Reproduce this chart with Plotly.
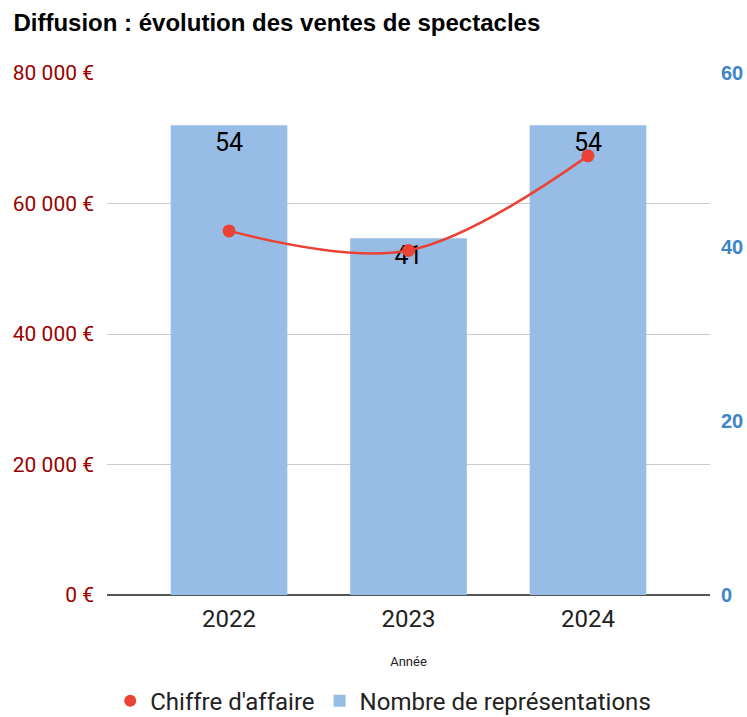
import plotly.graph_objects as go

annees = ["2022", "2023", "2024"]
chiffre_affaire = [55800, 52800, 67300]
nb_representations = [54, 41, 54]
left_ticks = [0, 20000, 40000, 60000, 80000]
left_tick_labels = ["0 €", "20 000 €", "40 000 €", "60 000 €", "80 000 €"]
right_ticks = [0, 20, 40, 60]

fig = go.Figure()
fig.add_trace(go.Bar(
    x=annees, y=nb_representations, name="Nombre de représentations",
    marker=dict(color="#97bde6", line=dict(width=0)),
    width=0.65, yaxis="y",
    text=[str(v) for v in nb_representations], textposition="inside",
    insidetextanchor="end", textangle=0,
    textfont=dict(family="Roboto, Arial", size=25, color="#000000"),
    legendrank=2,
))
fig.add_trace(go.Scatter(
    x=annees, y=chiffre_affaire, name="Chiffre d'affaire",
    mode="lines", line=dict(color="#ea4335", width=2.5, shape="spline", smoothing=1),
    yaxis="y2", showlegend=False,
))
fig.add_trace(go.Scatter(
    x=annees, y=chiffre_affaire, name="Chiffre d'affaire",
    mode="markers", marker=dict(color="#ea4335", size=13), yaxis="y2",
    legendrank=1,
))

fig.update_layout(
    width=747, height=717,
    margin=dict(l=107, r=37, t=73, b=122),
    paper_bgcolor="white", plot_bgcolor="white",
    title=dict(text="<b>Diffusion : évolution des ventes de spectacles</b>",
               x=0.018, xanchor="left", xref="container", y=0.969, yanchor="middle", yref="container",
               pad=dict(l=0, t=0, b=0, r=0),
               font=dict(family="Liberation Sans, Arial", size=24, color="#000000")),
    xaxis=dict(type="category", range=[-0.68, 2.68], showgrid=False, automargin=False,
               tickfont=dict(family="Roboto, Arial", size=24, color="#222222"),
               ticks="", ticklabelstandoff=7,
               title=dict(text="Année", standoff=24,
                          font=dict(family="Roboto, Arial", size=13, color="#222222"))),
    yaxis=dict(range=[0, 60], tickvals=right_ticks, side="right",
               showgrid=False, zeroline=False, automargin=False,
               tickfont=dict(family="Liberation Sans, Arial", size=20, color="#3d85c6", weight="bold"),
               ticks="", ticklabelstandoff=10),
    yaxis2=dict(range=[0, 80000], tickvals=left_ticks, ticktext=left_tick_labels,
                overlaying="y", side="left", automargin=False,
                showgrid=True, gridcolor="#cccccc", gridwidth=1,
                zeroline=True, zerolinecolor="#555555", zerolinewidth=1.5,
                tickfont=dict(family="Roboto, Arial", size=21, color="#990000"),
                ticks="", ticklabelstandoff=12),
    legend=dict(orientation="h", x=0.513, xanchor="center", xref="container",
                yref="container", y=0.022, yanchor="middle",
                font=dict(family="Roboto, Arial", size=24, color="#222222"),
                itemsizing="constant"),
)

fig.write_html("out.html", config={"displayModeBar": False},
               post_script="document.body.style.margin='0';document.body.style.overflow='hidden';")
